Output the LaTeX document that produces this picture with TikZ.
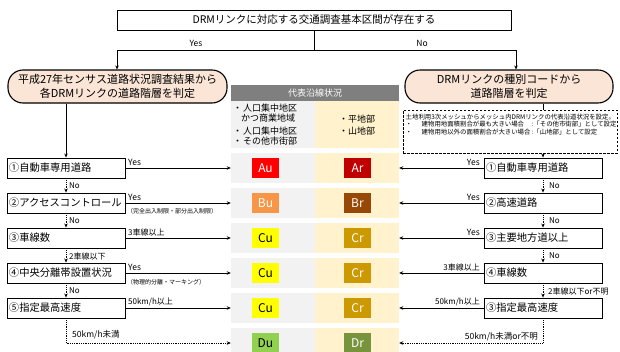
\documentclass[tikz,border=0pt]{standalone}
\usepackage{fontspec}
\setmainfont{Noto Sans CJK JP}
\usetikzlibrary{arrows.meta}
\definecolor{peach}{HTML}{FBE5D6}
\definecolor{bandg}{HTML}{F2F2F2}
\definecolor{bandy}{HTML}{FFF2CC}
\definecolor{hdr}{HTML}{7F7F7F}
\definecolor{cAu}{HTML}{FF0000}
\definecolor{cAr}{HTML}{C00000}
\definecolor{cBu}{HTML}{F79646}
\definecolor{cBr}{HTML}{974706}
\definecolor{cCu}{HTML}{FFFF00}
\definecolor{cCr}{HTML}{CC9900}
\definecolor{cDu}{HTML}{92D050}
\definecolor{cDr}{HTML}{77933C}
\newcommand\myfs[2]{\fontsize{#1}{#2}\selectfont}
\begin{document}
\begin{tikzpicture}[x=1pt,y=-1pt,
  box/.style={draw,line width=0.9pt,minimum width=118pt,minimum height=20pt,inner xsep=2pt,inner ysep=0pt,text width=114pt,align=left,font=\myfs{10.3}{12}},
  rbox/.style={draw,line width=1.1pt,rounded corners=15pt,fill=peach,minimum height=33pt,inner sep=0pt,align=center,font=\myfs{11}{14}},
  cellg/.style={fill=bandg,minimum width=84pt,inner sep=0pt},
  celly/.style={fill=bandy,minimum width=84pt,inner sep=0pt},
  badge/.style={minimum width=27pt,minimum height=20pt,inner sep=0pt,font=\myfs{12}{12}},
  lab/.style={inner sep=0pt,font=\myfs{8}{9}},
  tiny/.style={inner sep=0pt,font=\myfs{6}{7}},
  conn/.style={line width=0.8pt,-{Stealth[length=4pt,width=3.5pt]}},
  dconn/.style={conn,densely dotted},
  plain/.style={line width=0.8pt}]
\useasboundingbox (0,0) rectangle (620,351);
\fill[white] (0,0) rectangle (620,351);

% top decision
\node[draw,line width=0.9pt,minimum width=394pt,minimum height=20pt,inner sep=0pt,font=\myfs{10.5}{12}] (top) at (314,20) {DRMリンクに対応する交通調査基本区間が存在する};
\coordinate (J) at (314,50);
\coordinate (JL) at (117,50);
\coordinate (JR) at (516,50);

% rounded boxes
\node[rbox,minimum width=219pt] (LR) at (117.5,86.5) {平成27年センサス道路状況調査結果から\\各DRMリンクの道路階層を判定};
\node[rbox,minimum width=208pt] (RR) at (509,86.5) {DRMリンクの種別コードから\\道路階層を判定};

\draw[plain] (top.south) -- (J);
\draw[conn] (J) -- (JL) -- (JL |- LR.north);
\draw[conn] (J) -- (JR) -- (JR |- RR.north);
\node[lab,font=\myfs{8.5}{9}] (yes0) at (196,43) {Yes};
\node[lab,font=\myfs{8.5}{9}] (no0) at (422,43) {No};

% table header and cells
\node[fill=hdr,minimum width=168pt,minimum height=16pt,inner sep=0pt,text=white,font=\myfs{9}{10}] (H) at (315,93) {代表沿線状況};
\node[cellg,minimum height=47pt] (CL) at (273,124.5) {};
\node[celly,minimum height=47pt] (CR) at (357,124.5) {};
\node[anchor=north west,inner sep=0pt,align=left,font=\myfs{9}{10}] (CLt) at (233,104) {\makebox[10pt][l]{・}人口集中地区\\\hspace*{8pt}かつ商業地域\\[3pt]\makebox[10pt][l]{・}人口集中地区\\\makebox[10pt][l]{・}その他市街部};
\node[inner sep=0pt,align=left,font=\myfs{9}{12}] (CRt) at (357,125) {・平地部\\・山地部};

\foreach \i/\y in {1/168,2/203,3/238,4/273,5/308,6/343}{
  \node[cellg,minimum height=30pt] (BL\i) at (273,\y) {};
  \node[celly,minimum height=30pt] (BR\i) at (357,\y) {};
}
\node[badge,fill=cAu,text=white] (Au) at (265.5,168) {Au};
\node[badge,fill=cAr,text=white] (Ar) at (357.5,168) {Ar};
\node[badge,fill=cBu,text=white] (Bu) at (265.5,203) {Bu};
\node[badge,fill=cBr,text=white] (Br) at (357.5,203) {Br};
\node[badge,fill=cCu,text=black] (Cu1) at (265.5,238) {Cu};
\node[badge,fill=cCr,text=white] (Cr1) at (357.5,238) {Cr};
\node[badge,fill=cCu,text=black] (Cu2) at (265.5,273) {Cu};
\node[badge,fill=cCr,text=white] (Cr2) at (357.5,273) {Cr};
\node[badge,fill=cCu,text=black] (Cu3) at (265.5,308) {Cu};
\node[badge,fill=cCr,text=white] (Cr3) at (357.5,308) {Cr};
\node[badge,fill=cDu,text=black] (Du) at (265.5,343) {Du};
\node[badge,fill=cDr,text=white] (Dr) at (357.5,343) {Dr};

% left column
\node[box] (L1) at (66,168) {①自動車専用道路};
\node[box] (L2) at (66,203) {②アクセスコントロール};
\node[box] (L3) at (66,238) {③車線数};
\node[box] (L4) at (66,273) {④中央分離帯設置状況};
\node[box] (L5) at (66,308) {⑤指定最高速度};
\draw[conn] (L1.north |- LR.south) -- (L1.north);
\draw[dconn] (L1.south) -- (L2.north);
\draw[dconn] (L2.south) -- (L3.north);
\draw[dconn] (L3.south) -- (L4.north);
\draw[dconn] (L4.south) -- (L5.north);
\foreach \i in {1,...,5}{\draw[conn] (L\i.east) -- (BL\i.west);}
\draw[dconn] (L5.south) -- (L5.south |- BL6.west) -- (BL6.west);
\node[lab,anchor=west] (ln1) at (69,186) {No};
\node[lab,anchor=west] (ln2) at (69,221) {No};
\node[lab,anchor=west] (ln3) at (69,256) {2車線以下};
\node[lab,anchor=west] (ln4) at (69,291) {No};
\node[lab,anchor=west,font=\myfs{8.5}{9}] (ly1) at (128,162) {Yes};
\node[lab,anchor=west,font=\myfs{8.5}{9}] (ly2) at (128,197) {Yes};
\node[tiny,anchor=west] (lp2) at (127,211.5) {（完全出入制限・部分出入制限）};
\node[lab,anchor=west] (ly3) at (128,232.5) {3車線以上};
\node[lab,anchor=west,font=\myfs{8.5}{9}] (ly4) at (128,267) {Yes};
\node[tiny,anchor=west] (lp4) at (127,282.5) {（物理的分離・マーキング）};
\node[lab,anchor=west] (ly5) at (128,301.5) {50km/h以上};
\node[lab,anchor=west,font=\myfs{8.5}{9}] (ly6) at (72,335) {50km/h未満};

% right column
\node[draw,dash pattern=on 2.5pt off 1.5pt,line width=0.8pt,minimum width=214pt,minimum height=43pt,inner sep=0pt] (N) at (510,131.5) {};
\node[anchor=north west,inner sep=0pt,align=left,font=\myfs{6.4}{7.6}] (Nt) at (405.5,113.5) {土地利用3次メッシュからメッシュ内DRMリンクの代表沿道状況を設定。\\\makebox[16pt][l]{・}\makebox[110pt][l]{建物用地面積割合が最も大きい場合}:「その他市街部」として設定\\\makebox[16pt][l]{・}\makebox[110pt][l]{建物用地以外の面積割合が大きい場合}:「山地部」として設定};
\node[box] (R1) at (543,168) {①自動車専用道路};
\node[box] (R2) at (543,203) {②高速道路};
\node[box] (R3) at (543,238) {③主要地方道以上};
\node[box] (R4) at (543,273) {④車線数};
\node[box] (R5) at (543,308) {③指定最高速度};
\draw[plain] (R1.north |- RR.south) -- (R1.north |- N.north);
\draw[conn] (R1.north |- N.south) -- (R1.north);
\draw[dconn] (R1.south) -- (R2.north);
\draw[dconn] (R2.south) -- (R3.north);
\draw[dconn] (R3.south) -- (R4.north);
\draw[dconn] (R4.south) -- (R5.north);
\foreach \i in {1,...,5}{\draw[conn] (R\i.west) -- (BR\i.east);}
\draw[dconn] (R5.south) -- (R5.south |- BR6.east) -- (BR6.east);
\node[lab,anchor=west] (rn1) at (549,186) {No};
\node[lab,anchor=west] (rn2) at (549,221) {No};
\node[lab,anchor=west] (rn3) at (549,256) {No};
\node[lab,anchor=west] (rn4) at (548,291) {2車線以下or不明};
\node[lab,anchor=east,font=\myfs{8.5}{9}] (ry1) at (480,162) {Yes};
\node[lab,anchor=east,font=\myfs{8.5}{9}] (ry2) at (480,197) {Yes};
\node[lab,anchor=east,font=\myfs{8.5}{9}] (ry3) at (480,232) {Yes};
\node[lab,anchor=east] (ry4) at (480,267) {3車線以上};
\node[lab,anchor=east] (ry5) at (480,302) {50km/h以上};
\node[lab,anchor=east,font=\myfs{8.5}{9}] (ry6) at (538,336.5) {50km/h未満or不明};
\end{tikzpicture}
\end{document}
